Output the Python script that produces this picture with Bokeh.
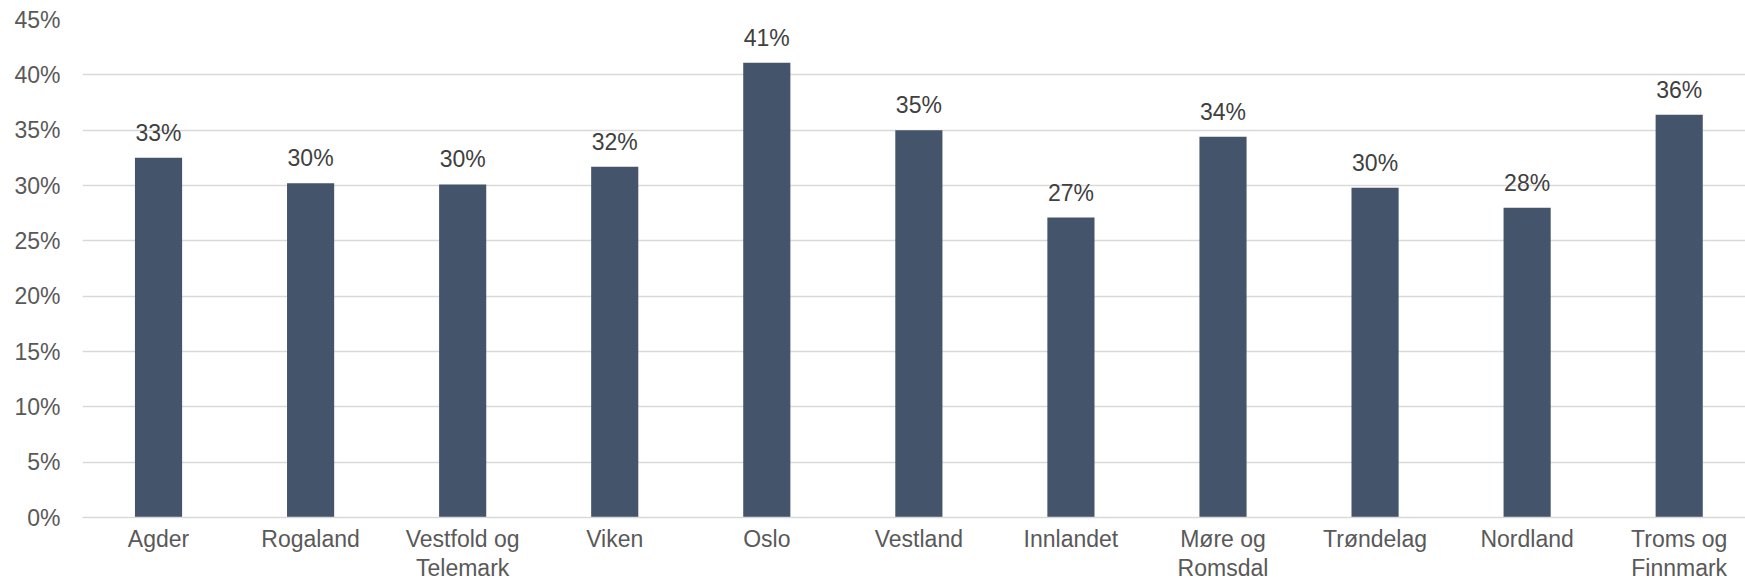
import math
from bokeh.plotting import figure
from bokeh.models import Range1d, FixedTicker, PrintfTickFormatter, ColumnDataSource
from bokeh.core.properties import value
from bokeh.embed import file_html
from bokeh.resources import INLINE

# ---- data ----
categories = ["Agder", "Rogaland", "Vestfold og\nTelemark", "Viken", "Oslo", "Vestland",
              "Innlandet", "Møre og\nRomsdal", "Trøndelag", "Nordland", "Troms og\nFinnmark"]
values = [32.5, 30.2, 30.1, 31.7, 41.1, 35.0, 27.1, 34.4, 29.8, 28.0, 36.4]
y_ticks = [0, 5, 10, 15, 20, 25, 30, 35, 40, 45]

FONT = "Liberation Sans"
BAR = "#44546A"

xs = list(range(len(categories)))
labels = [f"{int(math.floor(v + 0.5))}%" for v in values]
src = ColumnDataSource(dict(x=xs, top=values, label=labels))

p = figure(width=1745, height=584, output_backend="svg", toolbar_location=None,
           x_range=Range1d(-0.5, 10.436), y_range=Range1d(0, 45),
           min_border_left=82, min_border_right=0, min_border_top=19, min_border_bottom=67)
p.outline_line_color = None
p.background_fill_color = "white"
p.border_fill_color = "white"

p.vbar(x="x", top="top", width=0.31, bottom=0, source=src, fill_color=BAR, line_color=None)
p.text(x="x", y="top", text="label", source=src, text_align="center",
       text_baseline="alphabetic", y_offset=-25, text_font=value(FONT),
       text_font_size="23px", text_color="#404040")

# y axis
p.yaxis.ticker = FixedTicker(ticks=y_ticks)
p.yaxis.formatter = PrintfTickFormatter(format="%d%%")
p.yaxis.axis_line_color = None
p.yaxis.major_tick_line_color = None
p.yaxis.minor_tick_line_color = None
p.yaxis.major_tick_out = 0
p.yaxis.major_label_standoff = 22
p.yaxis.major_label_text_font = FONT
p.yaxis.major_label_text_font_size = "23px"
p.yaxis.major_label_text_color = "#595959"

# x axis
p.xaxis.ticker = FixedTicker(ticks=xs)
p.xaxis.major_label_overrides = {i: c for i, c in zip(xs, categories)}
p.xaxis.axis_line_color = "#D9D9D9"
p.xaxis.axis_line_width = 1.5
p.xaxis.major_tick_line_color = None
p.xaxis.minor_tick_line_color = None
p.xaxis.major_tick_out = 0
p.xaxis.major_label_standoff = 8
p.xaxis.major_label_text_font = FONT
p.xaxis.major_label_text_font_size = "23px"
p.xaxis.major_label_text_color = "#595959"
p.xaxis.major_label_text_line_height = 1.12

p.xgrid.grid_line_color = None
p.ygrid.ticker = FixedTicker(ticks=y_ticks)
p.ygrid.grid_line_color = "#D9D9D9"
p.ygrid.grid_line_width = 1.5

open("out.html", "w").write(file_html(p, INLINE))
